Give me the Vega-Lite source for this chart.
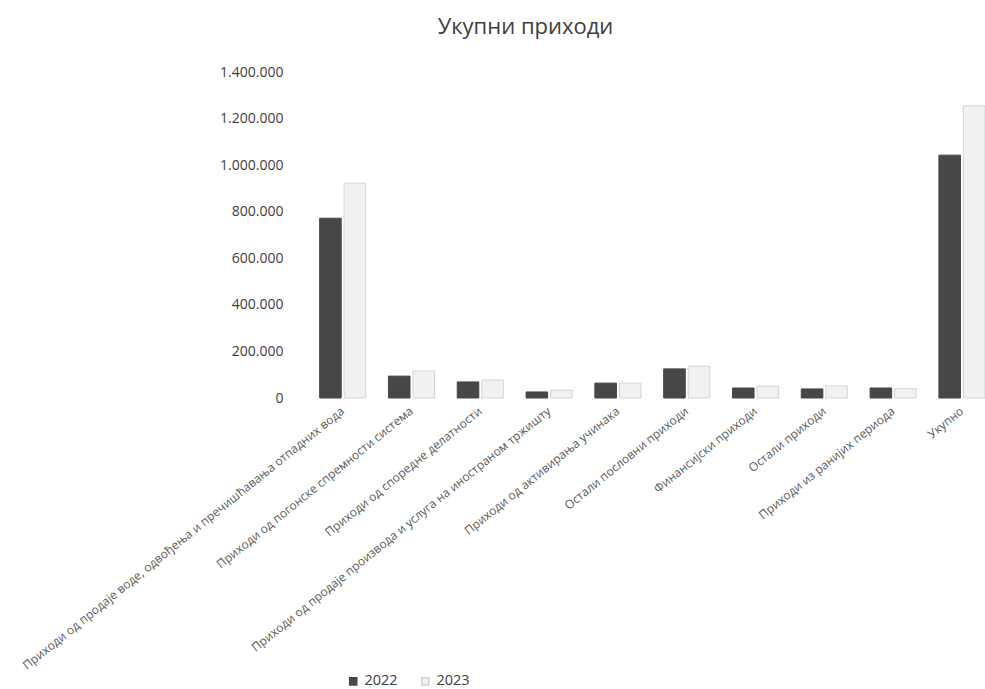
{
  "$schema": "https://vega.github.io/schema/vega-lite/v6.json",
  "autosize": {"type": "none"},
  "width": 675,
  "height": 326,
  "padding": {"left": 310, "top": 72, "right": 0, "bottom": 291},
  "background": "white",
  "title": {
    "text": "Укупни приходи",
    "anchor": "middle",
    "frame": "group",
    "dx": -122,
    "offset": 26,
    "fontSize": 22,
    "font": "Open Sans",
    "fontWeight": "normal",
    "color": "#404040"
  },
  "data": {
    "values": [
      {"kategorija": "Приходи од продаје воде, одвођења и пречишћавања отпадних вода", "godina": "2022", "iznos": 772000},
      {"kategorija": "Приходи од продаје воде, одвођења и пречишћавања отпадних вода", "godina": "2023", "iznos": 923000},
      {"kategorija": "Приходи од погонске спремности система", "godina": "2022", "iznos": 94000},
      {"kategorija": "Приходи од погонске спремности система", "godina": "2023", "iznos": 116000},
      {"kategorija": "Приходи од споредне делатности", "godina": "2022", "iznos": 69000},
      {"kategorija": "Приходи од споредне делатности", "godina": "2023", "iznos": 77000},
      {"kategorija": "Приходи од продаје производа и услуга на иностраном тржишту", "godina": "2022", "iznos": 26000},
      {"kategorija": "Приходи од продаје производа и услуга на иностраном тржишту", "godina": "2023", "iznos": 34000},
      {"kategorija": "Приходи од активирања учинака", "godina": "2022", "iznos": 64000},
      {"kategorija": "Приходи од активирања учинака", "godina": "2023", "iznos": 64000},
      {"kategorija": "Остали пословни приходи", "godina": "2022", "iznos": 125000},
      {"kategorija": "Остали пословни приходи", "godina": "2023", "iznos": 137000},
      {"kategorija": "Финансијски приходи", "godina": "2022", "iznos": 43000},
      {"kategorija": "Финансијски приходи", "godina": "2023", "iznos": 51000},
      {"kategorija": "Остали приходи", "godina": "2022", "iznos": 39000},
      {"kategorija": "Остали приходи", "godina": "2023", "iznos": 52000},
      {"kategorija": "Приходи из ранијих периода", "godina": "2022", "iznos": 43000},
      {"kategorija": "Приходи из ранијих периода", "godina": "2023", "iznos": 40000},
      {"kategorija": "Укупно", "godina": "2022", "iznos": 1043000},
      {"kategorija": "Укупно", "godina": "2023", "iznos": 1255000}
    ]
  },
  "mark": {"type": "bar", "strokeWidth": 1},
  "encoding": {
    "x": {
      "field": "kategorija",
      "type": "nominal",
      "sort": null,
      "scale": {"paddingInner": 0.33, "paddingOuter": 0.07, "align": 1},
      "axis": {
        "title": null,
        "labelAngle": -39,
        "labelAlign": "right",
        "labelBaseline": "middle",
        "labelPadding": 11,
        "labelFontSize": 12,
        "labelFont": "Open Sans",
        "labelColor": "#595959",
        "labelLimit": 600,
        "domain": false,
        "ticks": false
      }
    },
    "xOffset": {"field": "godina", "type": "nominal", "scale": {"paddingInner": 0.12}},
    "y": {
      "field": "iznos",
      "type": "quantitative",
      "scale": {"domain": [0, 1400000], "nice": false},
      "axis": {
        "title": null,
        "values": [0, 200000, 400000, 600000, 800000, 1000000, 1200000, 1400000],
        "labelExpr": "replace(format(datum.value, ','), regexp(',', 'g'), '.')",
        "labelFontSize": 14,
        "labelFont": "Open Sans",
        "labelColor": "#404040",
        "labelPadding": 27,
        "domain": false,
        "ticks": false,
        "grid": false
      }
    },
    "color": {
      "field": "godina",
      "type": "nominal",
      "scale": {"domain": ["2022", "2023"], "range": ["#474747", "#f1f1f1"]},
      "legend": {
        "title": null,
        "orient": "none",
        "direction": "horizontal",
        "legendX": 36,
        "legendY": 602,
        "symbolType": "square",
        "symbolSize": 50,
        "labelFontSize": 14.5,
        "labelFont": "Open Sans",
        "labelColor": "#404040",
        "columnPadding": 20
      }
    },
    "stroke": {
      "field": "godina",
      "type": "nominal",
      "scale": {"domain": ["2022", "2023"], "range": ["#474747", "#d4d4d4"]},
      "legend": null
    }
  },
  "config": {"view": {"stroke": null}}
}
